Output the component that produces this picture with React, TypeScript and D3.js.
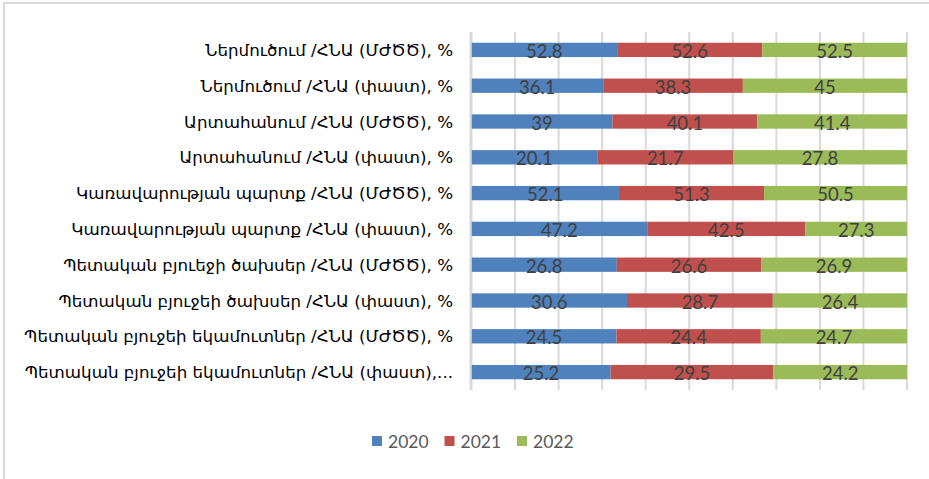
import React, { useEffect, useRef } from 'react';
import * as d3 from 'd3';

// categories top to bottom
const categories = [
  'Ներմուծում /ՀՆԱ (ՄԺԾԾ), %',
  'Ներմուծում /ՀՆԱ (փաստ), %',
  'Արտահանում /ՀՆԱ (ՄԺԾԾ), %',
  'Արտահանում /ՀՆԱ (փաստ), %',
  'Կառավարության պարտք /ՀՆԱ (ՄԺԾԾ), %',
  'Կառավարության պարտք /ՀՆԱ (փաստ), %',
  'Պետական բյուեջի ծախսեր /ՀՆԱ (ՄԺԾԾ), %',
  'Պետական բյուջեի ծախսեր /ՀՆԱ (փաստ), %',
  'Պետական բյուջեի եկամուտներ /ՀՆԱ (ՄԺԾԾ), %',
  'Պետական բյուջեի եկամուտներ /ՀՆԱ (փաստ),...',
];

const years = ['2020', '2021', '2022'];
const values2020 = [52.8, 36.1, 39, 20.1, 52.1, 47.2, 26.8, 30.6, 24.5, 25.2];
const values2021 = [52.6, 38.3, 40.1, 21.7, 51.3, 42.5, 26.6, 28.7, 24.4, 29.5];
const values2022 = [52.5, 45, 41.4, 27.8, 50.5, 27.3, 26.9, 26.4, 24.7, 24.2];
const colors = ['#4f81bd', '#c0504d', '#9bbb59'];

export default function App() {
  const ref = useRef<SVGSVGElement>(null);

  useEffect(() => {
    const svg = d3.select(ref.current);
    svg.selectAll('*').remove();

    const width = 929;
    const height = 479;
    const plot = { left: 471.5, right: 907, top: 32, bottom: 390 };

    // chart frame
    svg.append('path')
      .attr('d', `M4,${height} V3 H${width}`)
      .attr('fill', 'none')
      .attr('stroke', '#d9d9d9')
      .attr('stroke-width', 2);

    // rows as normalised stacks (100% stacked bar)
    const rows = categories.map((c, i) => ({
      cat: c,
      '2020': values2020[i],
      '2021': values2021[i],
      '2022': values2022[i],
    }));
    const stack = d3.stack<any>().keys(years).offset(d3.stackOffsetExpand);
    const series = stack(rows);

    const x = d3.scaleLinear().domain([0, 1]).range([plot.left, plot.right]);
    const y = d3.scaleBand().domain(categories).range([plot.top, plot.bottom]).paddingInner(0.6).paddingOuter(0.3);

    // vertical gridlines
    svg.append('g')
      .selectAll('line')
      .data(x.ticks(10))
      .join('line')
      .attr('x1', d => x(d))
      .attr('x2', d => x(d))
      .attr('y1', plot.top)
      .attr('y2', plot.bottom)
      .attr('stroke', '#d9d9d9')
      .attr('stroke-width', 2);

    // bars
    const g = svg.append('g');
    series.forEach((s, k) => {
      g.append('g')
        .selectAll('rect')
        .data(s)
        .join('rect')
        .attr('x', d => x(d[0]))
        .attr('y', d => y(d.data.cat)!)
        .attr('width', d => x(d[1]) - x(d[0]))
        .attr('height', y.bandwidth())
        .attr('fill', colors[k]);
    });

    // value labels
    series.forEach((s) => {
      g.append('g')
        .selectAll('text')
        .data(s)
        .join('text')
        .attr('x', d => (x(d[0]) + x(d[1])) / 2)
        .attr('y', d => y(d.data.cat)! + y.bandwidth() / 2 + 1)
        .attr('text-anchor', 'middle')
        .attr('dominant-baseline', 'central')
        .attr('font-family', 'Lato, sans-serif')
        .attr('font-size', 18.5)
        .attr('fill', '#404040')
        .text(d => String(d.data[s.key]));
    });

    // y axis line
    svg.append('line')
      .attr('x1', plot.left - 1)
      .attr('x2', plot.left - 1)
      .attr('y1', plot.top)
      .attr('y2', plot.bottom)
      .attr('stroke', '#d9d9d9')
      .attr('stroke-width', 2);

    // category labels
    svg.append('g')
      .selectAll('text')
      .data(categories)
      .join('text')
      .attr('x', 453)
      .attr('y', d => y(d)! + y.bandwidth() / 2)
      .attr('text-anchor', 'end')
      .attr('dominant-baseline', 'central')
      .attr('font-family', '"DejaVu Sans", sans-serif')
      .attr('font-size', 16.7)
      .attr('fill', '#000')
      .text(d => d);

    // legend
    const legend = svg.append('g').attr('transform', 'translate(372,441)');
    years.forEach((yr, k) => {
      const item = legend.append('g').attr('transform', `translate(${k * 72.5},0)`);
      item.append('rect')
        .attr('x', 0).attr('y', -5).attr('width', 10).attr('height', 10)
        .attr('fill', colors[k]);
      item.append('text')
        .attr('x', 16).attr('y', 0)
        .attr('dominant-baseline', 'central')
        .attr('font-family', 'Lato, sans-serif')
        .attr('font-size', 17.5)
        .attr('fill', '#595959')
        .text(yr);
    });
  }, []);

  return (
    <svg
      ref={ref}
      width={929}
      height={479}
      style={{ position: 'absolute', left: 0, top: 0, background: '#fff' }}
    />
  );
}
